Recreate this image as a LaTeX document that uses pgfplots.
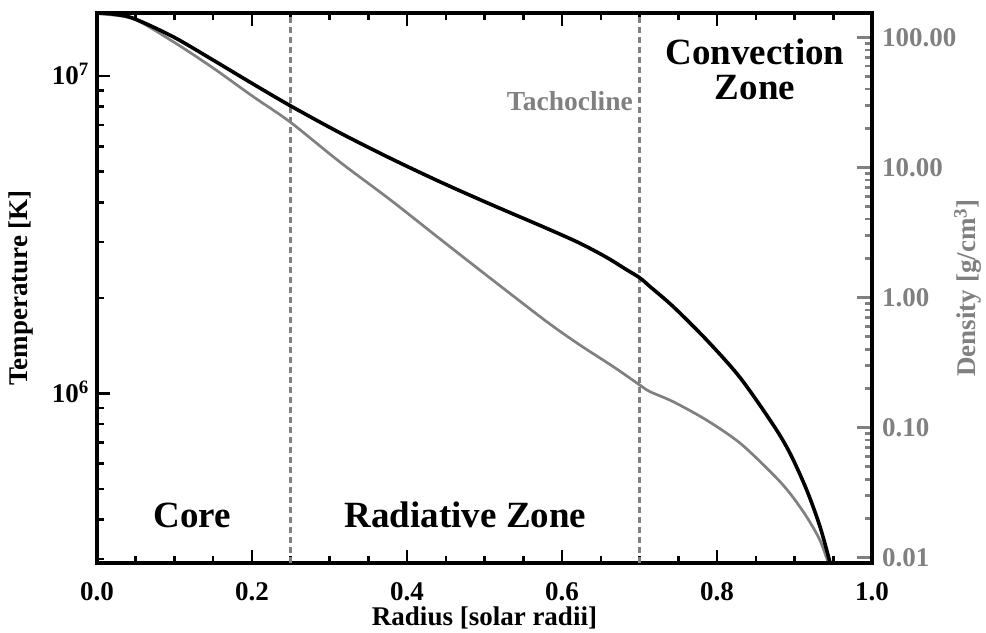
\documentclass[border=0pt]{standalone}
\usepackage{fontspec}
\setmainfont{Liberation Serif}
\usepackage{pgfplots}
\pgfplotsset{compat=1.18}
\definecolor{dgray}{RGB}{128,128,128}
\newcommand{\tfont}{\fontsize{27}{32}\selectfont\bfseries}
\newcommand{\bigfont}{\fontsize{37}{42}\selectfont\bfseries}

\pgfplotstableread{
r T
0.0000 1.580e7
0.0200 1.568e7
0.0468 1.520e7
0.0981 1.330e7
0.1497 1.123e7
0.2013 9.44e6
0.2490 8.07e6
0.3135 6.62e6
0.3781 5.51e6
0.4426 4.64e6
0.5071 3.95e6
0.5803 3.31e6
0.6232 2.97e6
0.6577 2.68e6
0.6835 2.45e6
0.7006 2.31e6
0.7135 2.17e6
0.7436 1.875e6
0.7867 1.472e6
0.8297 1.121e6
0.8726 7.95e5
0.8942 6.47e5
0.9157 4.96e5
0.9329 3.80e5
0.9458 2.93e5
}\temptable

\pgfplotstableread{
r rho
0.0000 152
0.0465 139
0.0981 92.8
0.1497 58.2
0.2013 35.1
0.2490 22.4
0.3135 11.0
0.3781 5.66
0.4426 2.82
0.5071 1.413
0.5803 0.652
0.6232 0.431
0.6662 0.294
0.7006 0.212
0.7135 0.189
0.7436 0.158
0.7867 0.114
0.8297 0.0760
0.8726 0.0435
0.8942 0.0312
0.9157 0.0206
0.9329 0.0136
0.9430 0.0093
}\denstable

\begin{document}
\begin{tikzpicture}
% density axis (right)
\begin{axis}[
  scale only axis, width=775pt, height=550pt,
  xmin=0, xmax=1, ymode=log, ymin=0.0091, ymax=154,
  hide x axis,
  axis line style={draw=none},
  ytick pos=right, tick align=inside,
  ytick={0.01,0.1,1,10,100},
  yticklabels={0.01,0.10,1.00,10.00,100.00},
  minor ytick={0.02,0.03,0.04,0.05,0.06,0.07,0.08,0.09,0.2,0.3,0.4,0.5,0.6,0.7,0.8,0.9,2,3,4,5,6,7,8,9,20,30,40,50,60,70,80,90},
  major tick length=15pt, minor tick length=7pt,
  tick style={dgray, line width=2.5pt},
  yticklabel style={font=\tfont, text=dgray, inner sep=0pt, anchor=west, xshift=10pt},
  ylabel={Density [g/cm\textsuperscript{3}]},
  ylabel style={font=\tfont, text=dgray, at={(axis description cs:1,0.5)}, anchor=north, yshift=-82pt, inner sep=0pt},
]
\addplot[dgray, line width=2.7pt, smooth] table[x=r, y=rho] {\denstable};
\end{axis}
% temperature axis (left)
\begin{axis}[
  scale only axis, width=775pt, height=550pt,
  xmin=0, xmax=1, ymode=log, ymin=2.919e5, ymax=1.58e7,
  axis line style={line width=3.5pt},
  ytick pos=left, xtick pos=both, tick align=inside,
  xtick={0,0.2,0.4,0.6,0.8,1}, xticklabels={0.0,0.2,0.4,0.6,0.8,1.0},
  minor x tick num=3,
  ytick={1e6,1e7}, yticklabels={10\textsuperscript{6},10\textsuperscript{7}},
  minor ytick={3e5,4e5,5e5,6e5,7e5,8e5,9e5,2e6,3e6,4e6,5e6,6e6,7e6,8e6,9e6},
  major tick length=13pt, minor tick length=7pt,
  tick style={black, line width=2.5pt},
  xticklabel style={font=\tfont, inner sep=0pt, anchor=north, yshift=-19pt},
  yticklabel style={font=\tfont, inner sep=0pt, anchor=base east, xshift=-8pt, yshift=-9pt},
  xlabel={Radius [solar radii]},
  xlabel style={font=\tfont, at={(axis description cs:0.5,0)}, anchor=north, yshift=-44pt, inner sep=0pt},
  ylabel={Temperature [K]},
  ylabel style={font=\tfont, at={(axis description cs:0,0.5)}, anchor=south, yshift=64pt, inner sep=0pt},
]
\addplot[dgray, line width=2.5pt, dash pattern=on 6pt off 4pt] coordinates {(0.25,2.919e5) (0.25,1.58e7)};
\addplot[dgray, line width=2.5pt, dash pattern=on 6pt off 4pt] coordinates {(0.7,2.919e5) (0.7,1.58e7)};
\addplot[black, line width=3.6pt, smooth] table[x=r, y=T] {\temptable};
\node[font=\bigfont, anchor=base, inner sep=0pt] at (rel axis cs:0.1226,0.0636) {Core};
\node[font=\bigfont, anchor=base, inner sep=0pt] at (rel axis cs:0.4755,0.0636) {Radiative Zone};
\node[font=\bigfont, anchor=base, inner sep=0pt] at (rel axis cs:0.849,0.9055) {Convection};
\node[font=\bigfont, anchor=base, inner sep=0pt] at (rel axis cs:0.849,0.8418) {Zone};
\node[font=\fontsize{27.5}{32}\selectfont\bfseries, text=dgray, anchor=base east, inner sep=0pt] at (rel axis cs:0.6916,0.8224) {Tachocline};
\end{axis}
\path ([shift={(-97pt,-70pt)}]current axis.south west) rectangle ([shift={(114pt,13pt)}]current axis.north east);
\end{tikzpicture}
\end{document}
